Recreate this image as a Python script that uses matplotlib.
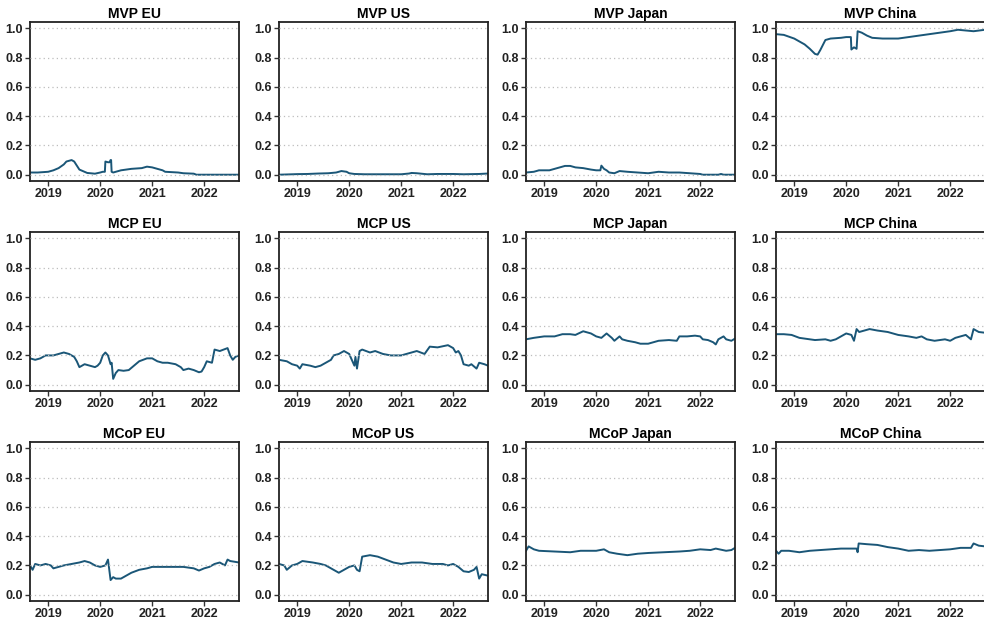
import matplotlib
matplotlib.use("Agg")
import matplotlib.pyplot as plt

plt.rcParams["font.family"] = ["Liberation Sans", "DejaVu Sans"]

# Portfolio weight series (time in decimal years)
mvp_eu_t = [2018.65, 2018.8, 2019.0, 2019.1, 2019.2, 2019.3, 2019.35, 2019.45, 2019.5, 2019.6, 2019.75, 2019.9,
            2020.0, 2020.05, 2020.09, 2020.1, 2020.15, 2020.18, 2020.2, 2020.21, 2020.22, 2020.25, 2020.4, 2020.6,
            2020.8, 2020.9, 2021.0, 2021.1, 2021.2, 2021.25, 2021.5, 2021.6, 2021.8, 2021.85, 2022.67]
mvp_eu_v = [0.015, 0.015, 0.02, 0.03, 0.045, 0.07, 0.09, 0.1, 0.09, 0.035, 0.012, 0.007,
            0.015, 0.02, 0.02, 0.09, 0.085, 0.085, 0.1, 0.1, 0.02, 0.015, 0.03, 0.04,
            0.045, 0.055, 0.05, 0.04, 0.03, 0.02, 0.015, 0.01, 0.007, 0.0, 0.0]

mvp_us_t = [2018.65, 2019.0, 2019.2, 2019.4, 2019.6, 2019.75, 2019.85, 2019.95, 2020.0, 2020.1, 2020.3,
            2021.0, 2021.15, 2021.2, 2021.3, 2021.5, 2021.7, 2022.0, 2022.2, 2022.5, 2022.67]
mvp_us_v = [0.0, 0.004, 0.005, 0.008, 0.01, 0.015, 0.025, 0.02, 0.01, 0.005, 0.003,
            0.003, 0.008, 0.012, 0.01, 0.003, 0.005, 0.005, 0.003, 0.005, 0.008]

mvp_jp_t = [2018.65, 2018.8, 2018.9, 2019.1, 2019.2, 2019.3, 2019.4, 2019.5, 2019.6, 2019.75, 2019.9, 2020.0,
            2020.08, 2020.1, 2020.15, 2020.2, 2020.25, 2020.35, 2020.45, 2020.6, 2020.8, 2021.0, 2021.2,
            2021.4, 2021.6, 2021.8, 2022.0, 2022.05, 2022.35, 2022.4, 2022.45, 2022.67]
mvp_jp_v = [0.015, 0.02, 0.03, 0.03, 0.04, 0.05, 0.06, 0.06, 0.05, 0.045, 0.035, 0.03,
            0.03, 0.062, 0.04, 0.03, 0.015, 0.01, 0.025, 0.02, 0.015, 0.01, 0.02,
            0.015, 0.015, 0.01, 0.005, 0.0, 0.0, 0.005, 0.0, 0.0]

mvp_cn_t = [2018.65, 2018.8, 2019.0, 2019.1, 2019.2, 2019.3, 2019.4, 2019.45, 2019.5, 2019.6, 2019.7, 2019.9,
            2020.0, 2020.09, 2020.1, 2020.15, 2020.2, 2020.22, 2020.3, 2020.4, 2020.5, 2020.7, 2021.0, 2021.2,
            2021.5, 2021.8, 2022.0, 2022.15, 2022.3, 2022.45, 2022.67]
mvp_cn_v = [0.96, 0.955, 0.93, 0.91, 0.89, 0.86, 0.825, 0.82, 0.85, 0.92, 0.93, 0.935,
            0.94, 0.94, 0.855, 0.87, 0.86, 0.98, 0.97, 0.95, 0.935, 0.93, 0.93, 0.94,
            0.955, 0.97, 0.98, 0.99, 0.985, 0.98, 0.99]

mcp_eu_t = [2018.65, 2018.75, 2018.85, 2018.95, 2019.1, 2019.2, 2019.3, 2019.4, 2019.5, 2019.55, 2019.6,
            2019.7, 2019.8, 2019.9, 2019.95, 2020.0, 2020.05, 2020.1, 2020.15, 2020.2, 2020.22, 2020.25,
            2020.3, 2020.35, 2020.45, 2020.55, 2020.65, 2020.75, 2020.9, 2021.0, 2021.1, 2021.2, 2021.3,
            2021.45, 2021.55, 2021.6, 2021.7, 2021.8, 2021.9, 2021.95, 2022.0, 2022.05, 2022.15, 2022.2,
            2022.3, 2022.45, 2022.5, 2022.55, 2022.6, 2022.67]
mcp_eu_v = [0.18, 0.17, 0.18, 0.2, 0.2, 0.21, 0.22, 0.21, 0.19, 0.16, 0.12,
            0.14, 0.13, 0.12, 0.13, 0.15, 0.2, 0.22, 0.2, 0.14, 0.15, 0.04,
            0.08, 0.1, 0.095, 0.1, 0.13, 0.16, 0.18, 0.18, 0.16, 0.15, 0.15,
            0.14, 0.12, 0.1, 0.11, 0.1, 0.085, 0.09, 0.12, 0.16, 0.15, 0.24,
            0.23, 0.25, 0.2, 0.17, 0.19, 0.2]

mcp_us_t = [2018.65, 2018.8, 2018.9, 2019.0, 2019.05, 2019.1, 2019.25, 2019.35, 2019.45, 2019.55, 2019.65,
            2019.7, 2019.8, 2019.9, 2020.0, 2020.05, 2020.1, 2020.12, 2020.15, 2020.2, 2020.25, 2020.4,
            2020.5, 2020.65, 2020.8, 2021.0, 2021.2, 2021.3, 2021.45, 2021.55, 2021.7, 2021.9, 2022.0,
            2022.05, 2022.1, 2022.15, 2022.2, 2022.3, 2022.35, 2022.45, 2022.5, 2022.6, 2022.67]
mcp_us_v = [0.17, 0.16, 0.14, 0.13, 0.11, 0.14, 0.13, 0.12, 0.13, 0.15, 0.17,
            0.2, 0.21, 0.23, 0.21, 0.17, 0.13, 0.19, 0.11, 0.23, 0.24, 0.22,
            0.23, 0.21, 0.2, 0.2, 0.22, 0.23, 0.21, 0.26, 0.255, 0.27, 0.25,
            0.22, 0.23, 0.2, 0.14, 0.13, 0.14, 0.11, 0.15, 0.14, 0.13]

mcp_jp_t = [2018.65, 2018.8, 2019.0, 2019.2, 2019.35, 2019.5, 2019.6, 2019.75, 2019.9, 2020.0, 2020.1,
            2020.2, 2020.3, 2020.35, 2020.45, 2020.5, 2020.6, 2020.75, 2020.85, 2021.0, 2021.1, 2021.2,
            2021.4, 2021.55, 2021.6, 2021.75, 2021.9, 2022.0, 2022.05, 2022.15, 2022.25, 2022.3, 2022.35,
            2022.45, 2022.5, 2022.6, 2022.67]
mcp_jp_v = [0.31, 0.32, 0.33, 0.33, 0.345, 0.345, 0.34, 0.365, 0.35, 0.33, 0.32,
            0.35, 0.32, 0.3, 0.33, 0.31, 0.3, 0.29, 0.28, 0.28, 0.29, 0.3,
            0.305, 0.3, 0.33, 0.33, 0.335, 0.33, 0.31, 0.305, 0.29, 0.275, 0.31,
            0.33, 0.31, 0.3, 0.315]

mcp_cn_t = [2018.65, 2018.8, 2018.95, 2019.1, 2019.3, 2019.4, 2019.6, 2019.7, 2019.8, 2019.9, 2020.0,
            2020.1, 2020.15, 2020.2, 2020.25, 2020.35, 2020.45, 2020.6, 2020.8, 2021.0, 2021.1, 2021.2,
            2021.35, 2021.45, 2021.55, 2021.7, 2021.8, 2021.9, 2022.0, 2022.1, 2022.2, 2022.3, 2022.4,
            2022.45, 2022.55, 2022.67]
mcp_cn_v = [0.345, 0.345, 0.34, 0.32, 0.31, 0.305, 0.31, 0.3, 0.31, 0.33, 0.35,
            0.34, 0.3, 0.38, 0.36, 0.37, 0.38, 0.37, 0.36, 0.34, 0.335, 0.33,
            0.32, 0.33, 0.31, 0.3, 0.305, 0.31, 0.3, 0.32, 0.33, 0.34, 0.31,
            0.38, 0.36, 0.355]

mcop_eu_t = [2018.65, 2018.7, 2018.75, 2018.85, 2018.95, 2019.05, 2019.1, 2019.2, 2019.3, 2019.45, 2019.6,
             2019.7, 2019.8, 2019.9, 2020.0, 2020.1, 2020.15, 2020.2, 2020.25, 2020.3, 2020.4, 2020.5,
             2020.6, 2020.75, 2020.9, 2021.0, 2021.2, 2021.4, 2021.6, 2021.8, 2021.9, 2022.0, 2022.1,
             2022.2, 2022.3, 2022.4, 2022.45, 2022.5, 2022.67]
mcop_eu_v = [0.2, 0.17, 0.21, 0.2, 0.21, 0.2, 0.18, 0.19, 0.2, 0.21, 0.22,
             0.23, 0.22, 0.2, 0.19, 0.2, 0.24, 0.1, 0.12, 0.11, 0.11, 0.13,
             0.15, 0.17, 0.18, 0.19, 0.19, 0.19, 0.19, 0.18, 0.165, 0.18, 0.19,
             0.21, 0.22, 0.2, 0.24, 0.23, 0.22]

mcop_us_t = [2018.65, 2018.75, 2018.8, 2018.9, 2019.0, 2019.1, 2019.3, 2019.45, 2019.55, 2019.65, 2019.75,
             2019.8, 2019.9, 2020.0, 2020.1, 2020.15, 2020.2, 2020.25, 2020.4, 2020.55, 2020.7, 2020.85,
             2021.0, 2021.2, 2021.4, 2021.6, 2021.8, 2021.9, 2022.0, 2022.1, 2022.2, 2022.3, 2022.4,
             2022.45, 2022.5, 2022.55, 2022.67]
mcop_us_v = [0.21, 0.2, 0.17, 0.2, 0.21, 0.23, 0.22, 0.21, 0.2, 0.18, 0.16,
             0.15, 0.17, 0.19, 0.2, 0.17, 0.16, 0.26, 0.27, 0.26, 0.24, 0.22,
             0.21, 0.22, 0.22, 0.21, 0.21, 0.2, 0.21, 0.19, 0.16, 0.155, 0.17,
             0.19, 0.11, 0.14, 0.13]

mcop_jp_t = [2018.65, 2018.7, 2018.8, 2018.9, 2019.2, 2019.5, 2019.7, 2020.0, 2020.15, 2020.25, 2020.4,
             2020.6, 2020.8, 2021.0, 2021.3, 2021.6, 2021.8, 2022.0, 2022.2, 2022.3, 2022.5, 2022.6, 2022.67]
mcop_jp_v = [0.3, 0.33, 0.31, 0.3, 0.295, 0.29, 0.3, 0.3, 0.31, 0.29, 0.28,
             0.27, 0.28, 0.285, 0.29, 0.295, 0.3, 0.31, 0.305, 0.315, 0.3, 0.305, 0.32]

mcop_cn_t = [2018.65, 2018.7, 2018.75, 2018.9, 2019.1, 2019.3, 2019.5, 2019.7, 2019.9, 2020.0, 2020.2,
             2020.22, 2020.24, 2020.4, 2020.6, 2020.8, 2021.0, 2021.2, 2021.4, 2021.6, 2021.8, 2022.0,
             2022.2, 2022.4, 2022.45, 2022.55, 2022.67]
mcop_cn_v = [0.3, 0.28, 0.3, 0.3, 0.29, 0.3, 0.305, 0.31, 0.315, 0.315, 0.315,
             0.29, 0.35, 0.345, 0.34, 0.325, 0.315, 0.3, 0.305, 0.3, 0.305, 0.31,
             0.32, 0.32, 0.35, 0.335, 0.33]

titles = ["MVP EU", "MVP US", "MVP Japan", "MVP China",
          "MCP EU", "MCP US", "MCP Japan", "MCP China",
          "MCoP EU", "MCoP US", "MCoP Japan", "MCoP China"]
series = [(mvp_eu_t, mvp_eu_v), (mvp_us_t, mvp_us_v), (mvp_jp_t, mvp_jp_v), (mvp_cn_t, mvp_cn_v),
          (mcp_eu_t, mcp_eu_v), (mcp_us_t, mcp_us_v), (mcp_jp_t, mcp_jp_v), (mcp_cn_t, mcp_cn_v),
          (mcop_eu_t, mcop_eu_v), (mcop_us_t, mcop_us_v), (mcop_jp_t, mcop_jp_v), (mcop_cn_t, mcop_cn_v)]

year_ticks = [2019, 2020, 2021, 2022]
y_ticks = [0.0, 0.2, 0.4, 0.6, 0.8, 1.0]

W, H = 984, 623
fig = plt.figure(figsize=(W / 100, H / 100), dpi=100)

col_left = [30, 279, 526, 776]
row_top = [22, 232, 442]
ax_w, ax_h = 209, 159
line_color = "#1a5677"

for i, (title, (t, v)) in enumerate(zip(titles, series)):
    r, c = divmod(i, 4)
    left = col_left[c] / W
    bottom = 1 - (row_top[r] + ax_h) / H
    ax = fig.add_axes([left, bottom, ax_w / W, ax_h / H])
    ax.plot(t, v, color=line_color, lw=1.4, zorder=2)
    for yv in y_ticks:
        ax.axhline(yv, color="#bdbdbd", lw=0.9, ls=(0, (1, 2.5)), zorder=3)
    ax.set_xlim(2018.65, 2022.67)
    ax.set_ylim(-0.043, 1.043)
    ax.set_xticks(year_ticks)
    ax.set_xticklabels([str(y) for y in year_ticks])
    ax.set_yticks(y_ticks)
    ax.set_yticklabels([f"{y:.1f}" for y in y_ticks])
    ax.tick_params(axis="both", direction="out", length=3.5, width=1, color="#333333",
                   labelsize=9, labelcolor="#222222", pad=1.5)
    for lab in ax.get_xticklabels() + ax.get_yticklabels():
        lab.set_fontweight("bold")
    for sp in ax.spines.values():
        sp.set_linewidth(1.3)
        sp.set_color("#222222")
    ax.set_title(title, fontsize=10, fontweight="bold", pad=3)

fig.savefig("out.png", dpi=100)
